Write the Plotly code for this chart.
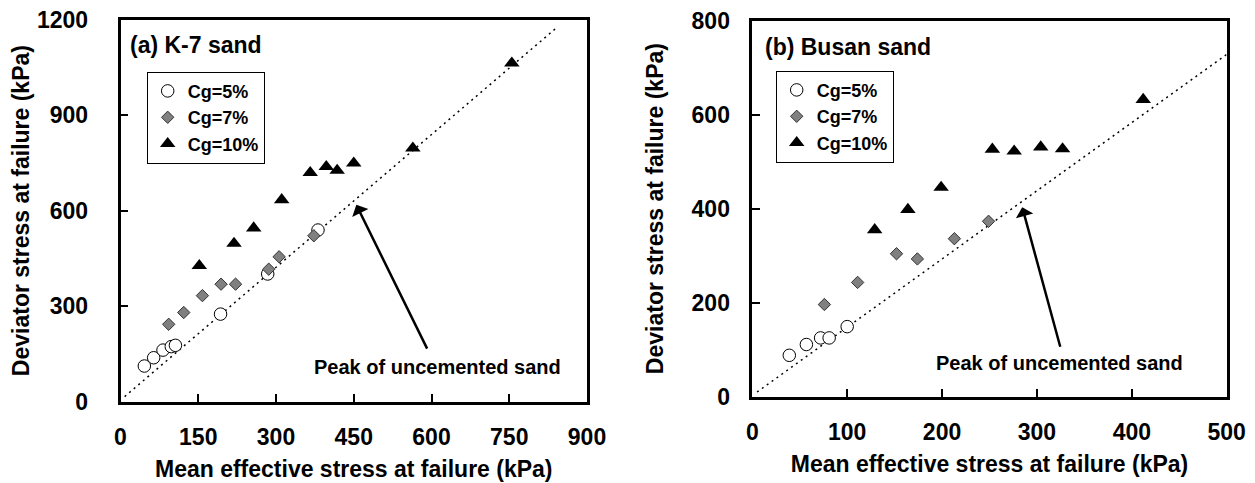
import plotly.graph_objects as go

# ---- data: (a) K-7 sand ----
k7_c5_x = [46, 64, 82, 98, 106, 193, 284, 381]
k7_c5_y = [112, 138, 162, 173, 177, 275, 401, 539]
k7_c7_x = [93, 122, 158, 194, 222, 286, 306, 373]
k7_c7_y = [243, 280, 333, 369, 369, 416, 455, 521]
k7_c10_x = [152, 219, 257, 311, 366, 397, 418, 450, 564, 755]
k7_c10_y = [427, 497, 545, 634, 719, 738, 726, 749, 796, 1063]
k7_line_x = [8, 844]
k7_line_y = [16, 1178]

# ---- data: (b) Busan sand ----
bs_c5_x = [39, 57, 72, 81, 100]
bs_c5_y = [88, 111, 125, 125, 149]
bs_c7_x = [76, 111, 152, 174, 213, 249]
bs_c7_y = [196, 243, 304, 293, 336, 373]
bs_c10_x = [129, 164, 199, 253, 276, 304, 327, 412]
bs_c10_y = [355, 398, 445, 526, 522, 531, 527, 632]
bs_line_x = [5, 500]
bs_line_y = [10, 728]

series_names = ["Cg=5%", "Cg=7%", "Cg=10%"]

FONT = "Arial, Liberation Sans, sans-serif"

m5 = dict(symbol="circle", size=12.5, color="white", line=dict(color="black", width=1))
m7 = dict(symbol="diamond", size=9.5, color="#808080", line=dict(color="#333333", width=1))
m10 = dict(symbol="triangle-up", size=13.5, color="black", line=dict(width=0))

fig = go.Figure()

def add_panel(xs, ys, lx, ly, xa, ya, leg):
    fig.add_trace(go.Scatter(x=lx, y=ly, mode="lines", xaxis=xa, yaxis=ya,
                             line=dict(color="black", width=1.5, dash="2px,4px"),
                             showlegend=False, hoverinfo="skip"))
    for (x, y), name, m in zip(zip(xs, ys), series_names, [m5, m7, m10]):
        fig.add_trace(go.Scatter(x=x, y=y, mode="markers", name=name, marker=m,
                                 xaxis=xa, yaxis=ya, legend=leg))

add_panel([k7_c5_x, k7_c7_x, k7_c10_x], [k7_c5_y, k7_c7_y, k7_c10_y],
          k7_line_x, k7_line_y, "x", "y", "legend")
add_panel([bs_c5_x, bs_c7_x, bs_c10_x], [bs_c5_y, bs_c7_y, bs_c10_y],
          bs_line_x, bs_line_y, "x2", "y2", "legend2")

W, H = 1255, 483

def ax(domain, rng, dtick, title, standoff, tls, anchor):
    return dict(domain=domain, range=rng, dtick=dtick, tick0=0, anchor=anchor,
                automargin=False,
                showline=True, linecolor="black", linewidth=2.5, mirror=True,
                ticks="inside", ticklen=8, tickwidth=2, tickcolor="black",
                showgrid=False, zeroline=False, ticklabelstandoff=tls,
                tickfont=dict(family=FONT, size=23, color="black", weight="bold"),
                title=dict(text=title, standoff=standoff,
                           font=dict(family=FONT, size=23, color="black", weight="bold")))

legend_common = dict(font=dict(family=FONT, size=18, color="black", weight="bold"),
                     bordercolor="black", borderwidth=1, bgcolor="white",
                     xanchor="left", yanchor="top", tracegroupgap=0)

fig.update_layout(
    width=W, height=H, margin=dict(l=0, r=0, t=0, b=0, autoexpand=False),
    paper_bgcolor="white", plot_bgcolor="white",
    xaxis=ax([120.5 / W, 587 / W], [0, 900], 150, "Mean effective stress at failure (kPa)", 12, 13, "y"),
    yaxis=ax([1 - 401.7 / H, 1 - 19.5 / H], [0, 1200], 300, "Deviator stress at failure (kPa)", 1, 25, "x"),
    xaxis2=ax([752.3 / W, 1226.7 / W], [0, 500], 100, "Mean effective stress at failure (kPa)", 12, 13, "y2"),
    yaxis2=ax([1 - 396.7 / H, 1 - 20.5 / H], [0, 800], 200, "Deviator stress at failure (kPa)", 22, 15, "x2"),
    legend=dict(x=146.7 / W, y=1 - 71.7 / H, **legend_common),
    legend2=dict(x=775.7 / W, y=1 - 70.7 / H, **legend_common),
    annotations=[
        dict(text="(a) K-7 sand", x=13.5, y=1120, xref="x", yref="y", xanchor="left",
             showarrow=False, font=dict(family=FONT, size=23, color="black", weight="bold")),
        dict(text="Peak of uncemented sand", x=611, y=110, xref="x", yref="y",
             showarrow=False, font=dict(family=FONT, size=20, color="black", weight="bold")),
        dict(text="", x=455, y=618, ax=593, ay=162, xref="x", yref="y", axref="x", ayref="y",
             showarrow=True, arrowhead=1, arrowsize=1.2, arrowwidth=2.5, arrowcolor="black"),
        dict(text="(b) Busan sand", x=11, y=743, xref="x2", yref="y2", xanchor="left",
             showarrow=False, font=dict(family=FONT, size=23, color="black", weight="bold")),
        dict(text="Peak of uncemented sand", x=324, y=71, xref="x2", yref="y2",
             showarrow=False, font=dict(family=FONT, size=20, color="black", weight="bold")),
        dict(text="", x=284.5, y=403, ax=325, ay=103, xref="x2", yref="y2", axref="x2", ayref="y2",
             showarrow=True, arrowhead=1, arrowsize=1.2, arrowwidth=2.5, arrowcolor="black"),
    ],
)

fig.write_html("out.html", config={"displayModeBar": False},
               post_script="document.body.style.margin='0';document.body.style.overflow='hidden';")
